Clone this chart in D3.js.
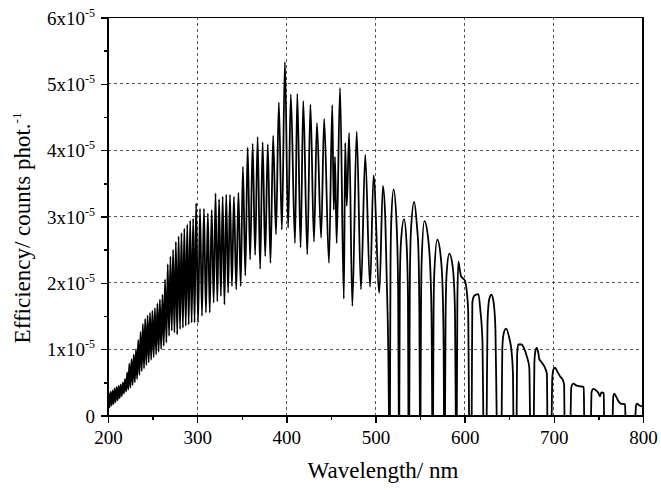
<!DOCTYPE html>
<html lang="en">
  <head>
    <meta charset="utf-8">
    <title>Detection efficiency</title>
    <script src="https://cdn.jsdelivr.net/npm/d3@7"></script>
  </head>
  <style>
    body { margin: 0; background: #fff; }
    text { font-family: "Liberation Serif", "Times New Roman", serif; fill: #000; }
    .axis path,
    .axis line { stroke: #000; stroke-width: 1.4; shape-rendering: crispEdges; }
    .grid line { stroke: #555; stroke-width: 1; stroke-dasharray: 3,3; shape-rendering: crispEdges; }
  </style>
  <body>
    <div id="svg-area"></div>
    <script>
      const svg_width = 661;
      const svg_height = 490;

      // efficiency values are in units of 1e-5 counts/photon
      // 200-300 nm: dense fringes, [wavelength, efficiency] peak / trough pairs
      const uvPoints = [
        [200.0,0.25],
        [200.8,0.34],[201.9,0.12],[203.0,0.36],[204.1,0.15],[205.2,0.38],[206.3,0.17],
        [207.4,0.41],[208.5,0.20],[209.7,0.43],[210.8,0.23],[212.0,0.45],[213.1,0.26],
        [214.3,0.47],[215.5,0.29],[216.7,0.50],[217.9,0.33],[219.1,0.55],[220.3,0.36],
        [221.5,0.65],[222.7,0.39],[223.9,0.78],[225.1,0.42],[226.4,0.85],[227.6,0.46],
        [228.9,0.92],[230.1,0.50],[231.4,1.00],[232.6,0.55],[233.9,1.14],[235.2,0.61],
        [236.5,1.26],[237.8,0.67],[239.1,1.38],[240.4,0.71],[241.7,1.46],[243.0,0.76],
        [244.4,1.51],[245.7,0.80],[247.1,1.55],[248.4,0.84],[249.8,1.58],[251.2,0.88],
        [252.6,1.62],[254.0,0.92],[255.4,1.69],[256.8,0.96],[258.2,1.75],[259.6,1.00],
        [261.1,1.82],[262.5,1.05],[264.0,2.05],[265.5,1.10],[267.0,2.28],[268.5,1.20],
        [270.0,2.40],[271.5,1.28],[273.0,2.50],[274.5,1.25],[276.1,2.62],[277.6,1.22],
        [279.2,2.70],[280.8,1.30],[282.4,2.75],[284.0,1.32],[285.6,2.82],[287.2,1.35],
        [288.9,2.88],[290.5,1.37],[292.2,2.94],[293.8,1.40],[295.5,2.97],[297.1,1.40],
        [298.8,3.20],[301.0,1.40]
      ];

      // 300-400 nm
      const nearUvPoints = [
        [303.2,3.12],[305.4,1.50],[307.6,3.12],[309.8,1.55],[312.0,3.05],[314.1,1.55],
        [316.3,3.10],[318.5,1.70],[320.6,3.35],[322.6,1.72],[324.6,3.26],[326.6,1.80],
        [328.6,3.30],[330.6,1.67],[332.6,3.33],[334.7,1.85],[336.8,3.33],[339.0,1.95],
        [341.2,3.30],[343.8,1.90],[346.3,3.36],[348.8,1.95],[351.3,3.75],[354.0,2.11],
        [356.6,4.04],[359.4,2.35],[362.2,4.10],[365.0,2.42],[367.8,4.20],[370.6,2.21],
        [373.4,4.12],[376.3,2.40],[379.2,4.09],[382.2,2.30],[385.2,4.22],[388.4,2.73],
        [391.6,4.72],[395.0,2.80],[398.4,5.33]
      ];

      // 400-515 nm
      const bluePoints = [
        [402.0,2.83],[405.0,4.84],[409.7,2.60],[412.3,4.85],[416.0,2.53],[419.0,4.74],
        [423.5,2.43],[427.0,4.69],[431.0,2.62],[434.3,4.41],[439.0,2.68],[442.4,4.47],
        [447.8,2.30],[451.5,4.68],[453.2,3.10],[454.6,3.90],[456.4,2.60],[460.2,4.94],
        [464.5,1.76],[466.0,4.11],[467.8,3.16],[470.4,4.26],[474.0,1.65],[478.9,4.28],
        [483.7,1.90],[488.5,3.93],[493.9,1.94],[497.8,3.62],[504.3,1.85],[508.3,3.46],
        [511.0,2.95],[512.5,2.10],[514.3,1.00],[515.1,0],[515.6,-1.5]
      ];

      // 515-800 nm: arches that dip below zero between fringes
      const redPoints = [
        [516.2,0],[516.8,2.2],[517.6,2.9],[520.3,3.41],[523.6,2.9],[525.4,1.9],[526.1,0],
        [526.4,-1.5],
        [526.7,0],[527.3,2.0],[528.5,2.6],[532.0,2.96],[535.0,2.55],[536.4,1.8],[536.9,0],
        [537.4,-1.5],
        [537.9,0],[538.5,2.0],[539.8,2.8],[543.4,3.22],[546.5,2.85],[548.0,2.55],[549.2,1.55],[549.8,0],
        [550.1,-1.5],
        [550.5,0],[551.0,1.5],[551.7,2.3],[554.8,2.93],[559.2,2.65],[561.9,2.05],[563.0,1.3],[563.6,0],
        [564.1,-1.5],
        [564.6,0],[565.1,1.5],[565.8,2.1],[569.3,2.65],[573.1,2.4],[575.3,1.9],[576.5,0.9],[576.8,0],
        [577.4,-1.5],
        [578.0,0],[578.6,1.5],[579.8,2.15],[582.8,2.44],[586.5,2.25],[588.0,2.0],[589.2,1.5],[590.0,0],
        [590.6,-1.5],
        [591.2,0],[591.8,1.7],[592.9,2.32],[594.5,2.2],[595.9,2.1],[600.4,2.03],[602.5,1.85],[604.0,1.55],[604.9,0],
        [606.4,-1.5],
        [607.9,0],[608.6,1.7],[610.5,1.8],[612.5,1.82],[615.5,1.83],[617.5,1.6],[620.0,1.1],[620.9,0],
        [622.8,-1.5],
        [624.7,0],[625.6,1.4],[627.5,1.75],[630.0,1.82],[632.5,1.7],[634.5,1.3],[635.9,0],
        [638.7,-1.5],
        [641.5,0],[642.2,1.0],[643.5,1.22],[646.3,1.31],[650.0,1.17],[652.7,0.95],[654.2,0.6],[654.6,0],
        [656.4,-1.5],
        [658.3,0],[658.8,0.9],[660.0,1.07],[664.0,1.07],[666.0,1.03],[669.5,0.9],[672.5,0.72],[673.3,0],
        [675.5,-1.5],
        [677.6,0],[678.2,0.8],[679.3,0.97],[680.8,1.02],[682.5,0.95],[683.7,0.85],[685.2,0.82],[690.0,0.72],[692.3,0.62],[692.7,0],
        [695.1,-1.5],
        [697.6,0],[698.2,0.55],[699.4,0.69],[701.3,0.72],[704.0,0.66],[707.0,0.59],[710.6,0.52],[711.6,0.45],[711.9,0],
        [715.3,-1.5],
        [718.8,0],[719.5,0.42],[721.8,0.48],[725.6,0.45],[729.3,0.44],[733.6,0.43],[734.0,0],
        [737.9,-1.5],
        [741.7,0],[742.3,0.35],[744.3,0.40],[748.0,0.37],[750.0,0.34],[751.7,0.29],[753.3,0.35],[756.0,0.34],[756.3,0],
        [761.1,-1.5],
        [766.0,0],[766.6,0.28],[767.8,0.33],[770.0,0.28],[772.3,0.22],[775.0,0.18],[779.8,0.17],[780.3,0],
        [785.9,-1.5],
        [791.5,0],[792.2,0.15],[793.2,0.18],[796.0,0.15],[798.5,0.14],[800.0,0.13]
      ];

      const xTicks = [200, 300, 400, 500, 600, 700, 800];
      const xMinorTicks = [250, 350, 450, 550, 650, 750];
      const yTicks = [0, 1, 2, 3, 4, 5, 6];
      const yMinorTicks = [0.5, 1.5, 2.5, 3.5, 4.5, 5.5];

      const spectrum = uvPoints.concat(nearUvPoints, bluePoints, redPoints);

      //create svg element
      const svg = d3.select('#svg-area')
        .append('svg')
        .attr('width', svg_width)
        .attr('height', svg_height);

      //set scaling
      const x_scale = d3.scaleLinear()
        .domain([200, 800])
        .range([108, 643]);

      const y_scale = d3.scaleLinear()
        .domain([0, 6])
        .range([415.5, 17.5]);

      //grid
      svg.append('g')
        .attr('class', 'grid')
        .selectAll('line')
        .data(xTicks.slice(1, -1))
        .enter()
        .append('line')
        .attr('x1', d => x_scale(d)).attr('x2', d => x_scale(d))
        .attr('y1', y_scale(0)).attr('y2', y_scale(6));

      svg.append('g')
        .attr('class', 'grid')
        .selectAll('line')
        .data(yTicks.slice(1, -1))
        .enter()
        .append('line')
        .attr('x1', x_scale(200)).attr('x2', x_scale(800))
        .attr('y1', d => y_scale(d)).attr('y2', d => y_scale(d));

      //plot area clip
      svg.append('clipPath')
        .attr('id', 'plot-clip')
        .append('rect')
        .attr('x', x_scale(200))
        .attr('y', y_scale(6))
        .attr('width', x_scale(800) - x_scale(200))
        .attr('height', y_scale(0) - y_scale(6));

      //spectrum line
      const line = d3.line()
        .x(d => x_scale(d[0]))
        .y(d => y_scale(d[1]))
        .curve(d3.curveMonotoneX);

      svg.append('path')
        .datum(spectrum)
        .attr('clip-path', 'url(#plot-clip)')
        .attr('fill', 'none')
        .attr('stroke', '#000')
        .attr('stroke-width', 1.8)
        .attr('stroke-linejoin', 'round')
        .attr('d', line);

      //axes
      const x_axis = d3.axisBottom(x_scale)
        .tickValues(xTicks)
        .tickSize(7)
        .tickSizeOuter(0)
        .tickPadding(8)
        .tickFormat(d3.format('d'));

      svg.append('g')
        .attr('class', 'axis')
        .attr('transform', `translate(0,${y_scale(0)})`)
        .call(x_axis)
        .selectAll('text')
        .style('font-size', '19px')
        .style('font-family', '"Liberation Serif", "Times New Roman", serif');

      svg.append('g')
        .attr('class', 'axis')
        .attr('transform', `translate(0,${y_scale(0)})`)
        .call(d3.axisBottom(x_scale).tickValues(xMinorTicks).tickSize(4).tickSizeOuter(0).tickFormat(''))
        .select('.domain').remove();

      const y_axis = d3.axisLeft(y_scale)
        .tickValues(yTicks)
        .tickSize(7)
        .tickSizeOuter(0)
        .tickFormat('');

      const y_g = svg.append('g')
        .attr('class', 'axis')
        .attr('transform', `translate(${x_scale(200)},0)`)
        .call(y_axis);

      svg.append('g')
        .attr('class', 'axis')
        .attr('transform', `translate(${x_scale(200)},0)`)
        .call(d3.axisLeft(y_scale).tickValues(yMinorTicks).tickSize(4).tickSizeOuter(0).tickFormat(''))
        .select('.domain').remove();

      //y tick labels with superscript exponent
      y_g.selectAll('.tick')
        .append('text')
        .attr('x', -13)
        .attr('y', 6.5)
        .attr('text-anchor', 'end')
        .style('font-size', '19px')
        .style('font-family', '"Liberation Serif", "Times New Roman", serif')
        .attr('fill', '#000')
        .each(function(d) {
          const t = d3.select(this);
          if (d === 0) {
            t.text('0');
            return;
          }
          t.append('tspan').text(`${d}x10`);
          t.append('tspan').attr('dy', -8).style('font-size', '12px').text('-5');
        });

      //frame (top and right)
      svg.append('rect')
        .attr('x', x_scale(200))
        .attr('y', y_scale(6))
        .attr('width', x_scale(800) - x_scale(200))
        .attr('height', y_scale(0) - y_scale(6))
        .attr('fill', 'none')
        .attr('stroke', '#000')
        .attr('stroke-width', 1.4)
        .attr('shape-rendering', 'crispEdges');

      //axis titles
      svg.append('text')
        .attr('x', 383)
        .attr('y', 478)
        .attr('text-anchor', 'middle')
        .style('font-size', '23px')
        .text('Wavelength/ nm');

      const y_title = svg.append('text')
        .attr('transform', 'translate(30,228) rotate(-90)')
        .attr('text-anchor', 'middle')
        .style('font-size', '23px');
      y_title.append('tspan').text('Efficiency/ counts phot.');
      y_title.append('tspan').attr('dy', -9).style('font-size', '13px').text('-1');
    </script>
  </body>
</html>
